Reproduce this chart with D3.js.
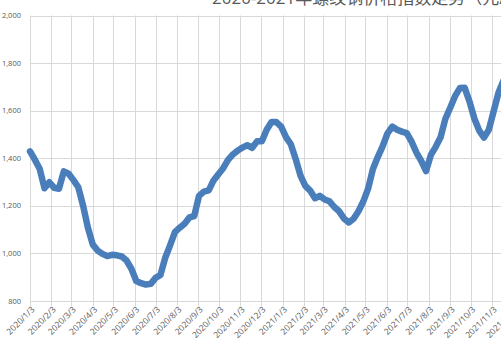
<!DOCTYPE html>
<html>
<head>
<meta charset="utf-8">
<script src="https://cdn.jsdelivr.net/npm/d3@7/dist/d3.min.js"></script>
<style>
html,body{margin:0;padding:0;background:#fff;overflow:hidden;}
svg{display:block;font-family:"Open Sans","Noto Sans CJK SC",sans-serif;}
</style>
</head>
<body>
<svg id="chart" width="501" height="345"></svg>
<script>
// Weekly series starting 2020/1/3
const startDate = "2020-01-03";
const values = [
  1429,1394,1356,1274,1299,1276,1272,1345,1335,1308,
  1278,1200,1107,1037,1012,998,989,994,992,987,
  970,935,884,875,869,872,897,909,982,1034,
  1089,1108,1125,1151,1157,1242,1260,1265,1307,1333,
  1358,1393,1416,1432,1445,1455,1444,1471,1471,1520,
  1552,1552,1533,1489,1459,1397,1327,1284,1264,1232,
  1242,1227,1219,1195,1177,1147,1130,1146,1177,1218,
  1272,1355,1405,1450,1504,1533,1520,1512,1506,1470,
  1424,1389,1346,1414,1448,1488,1566,1612,1661,1695,
  1696,1638,1567,1516,1487,1520,1598,1676,1725
];
const tickLabels = [
  "2020/1/3","2020/2/3","2020/3/3","2020/4/3","2020/5/3","2020/6/3",
  "2020/7/3","2020/8/3","2020/9/3","2020/10/3","2020/11/3","2020/12/3",
  "2021/1/3","2021/2/3","2021/3/3","2021/4/3","2021/5/3","2021/6/3",
  "2021/7/3","2021/8/3","2021/9/3","2021/10/3","2021/11/3","2021/12/3"
];
const yTicks = [800,1000,1200,1400,1600,1800,2000];
const titleText = "2020-2021年螺纹钢价格指数走势（元/吨）";

(function(){
const parse = s => { const [yy,m,d] = s.split(/[\/-]/).map(Number); return new Date(yy, m-1, d); };
const t0 = parse(startDate);
const data = values.map((v,i) => ({date: d3.timeDay.offset(t0, 7*i), value: v}));
const tickDates = tickLabels.map(parse);

const svg = d3.select("#chart");
const mLeft = 30, mTop = 15.5, mBottom = 301;
const pxPerDay = 0.69;
const lastTick = tickDates[tickDates.length-1];
const x = d3.scaleTime()
  .domain([t0, lastTick])
  .range([mLeft, mLeft + d3.timeDay.count(t0, lastTick) * pxPerDay]);
const y = d3.scaleLinear().domain([800, 2000]).range([mBottom, mTop]);

// title (cropped at top, as in the reference)
svg.append("text")
  .attr("x", 212).attr("y", 4)
  .attr("font-size", 17).attr("fill", "#595959")
  .text(titleText);

// horizontal gridlines
svg.append("g").selectAll("line").data(yTicks).join("line")
  .attr("x1", mLeft).attr("x2", 520)
  .attr("y1", d => Math.round(y(d)) + 0.5).attr("y2", d => Math.round(y(d)) + 0.5)
  .attr("stroke", "#d9d9d9").attr("stroke-width", 1);

// vertical gridlines + ticks
svg.append("g").selectAll("line").data(tickDates).join("line")
  .attr("x1", d => Math.round(x(d)) + 0.5).attr("x2", d => Math.round(x(d)) + 0.5)
  .attr("y1", mTop).attr("y2", mBottom + 5)
  .attr("stroke", "#d9d9d9").attr("stroke-width", 1);

// y labels
svg.append("g").selectAll("text").data(yTicks).join("text")
  .attr("x", 21).attr("y", d => y(d)).attr("dy", "0.35em")
  .attr("text-anchor", "end").attr("font-size", 7.5).attr("fill", "#595959")
  .text(d => d3.format(",")(d));

// x labels
svg.append("g").selectAll("text").data(tickDates).join("text")
  .attr("transform", (d) => `translate(${x(d)+3},${mBottom + 7}) rotate(-45)`)
  .attr("text-anchor", "end").attr("dy", "0.35em")
  .attr("font-size", 8.5).attr("fill", "#595959")
  .text((d,i) => tickLabels[i]);

// line
const line = d3.line().x(d => x(d.date)).y(d => y(d.value));
svg.append("path").datum(data)
  .attr("d", line)
  .attr("fill", "none")
  .attr("stroke", "#4a7ebb")
  .attr("stroke-width", 6.5)
  .attr("stroke-linejoin", "round")
  .attr("stroke-linecap", "round");
})();
</script>
</body>
</html>
